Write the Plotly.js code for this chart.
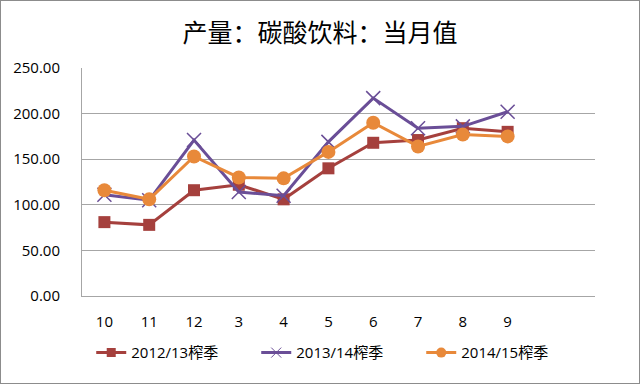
<!DOCTYPE html>
<html><head><meta charset="utf-8">
<script src="https://cdn.plot.ly/plotly-3.0.1.min.js"></script>
<style>
html,body{margin:0;padding:0;background:#fff;}
#chart{width:638px;height:382px;border:1px solid #8c8c8c;}
</style></head>
<body><div id="chart"></div>
<script>
const categories = ['10','11','12','3','4','5','6','7','8','9'];
const s2012 = [81, 78, 116, 122, 106, 140, 168, 171, 184, 180];
const s2013 = [111, 105, 171, 114, 110, 169, 217, 184, 186, 202];
const s2014 = [116, 106, 153, 130, 129, 158, 190, 164, 177, 175];
const names = ['2012/13榨季','2013/14榨季','2014/15榨季'];
const colors = ['#A5403D', '#6A4E97', '#E8893A'];

const font = '"Open Sans", "Noto Sans CJK SC", sans-serif';
const lfont = '"Open Sans", "Noto Sans CJK SC", sans-serif';
const series = [s2012, s2013, s2014];
const symbols = ['square', 'x-thin', 'circle'];
const sizes = [12, 14, 14];
const lsizes = [9, 10, 10];
const traces = [];
series.forEach((s, i) => {
  traces.push({x: categories, y: s, name: names[i], type: 'scatter', mode: 'lines+markers', showlegend: false,
    line: {color: colors[i], width: 3},
    marker: {symbol: symbols[i], size: sizes[i], color: colors[i], line: {color: colors[i], width: i === 1 ? 1.5 : 0}}});
});
series.forEach((s, i) => {
  traces.push({x: [null], y: [null], name: names[i], type: 'scatter', mode: 'lines+markers', showlegend: true,
    line: {color: colors[i], width: 3},
    marker: {symbol: symbols[i], size: lsizes[i], color: colors[i], line: {color: colors[i], width: i === 1 ? 1 : 0}}});
});
const layout = {
  width: 638, height: 382,
  margin: {l: 81, r: 44, t: 67, b: 87, autoexpand: false},
  paper_bgcolor: '#fff', plot_bgcolor: '#fff',
  title: {text: '产量：碳酸饮料：当月值', x: 0.5, xanchor: 'center', y: 0.915, yanchor: 'middle',
          font: {family: '"Noto Sans CJK SC", sans-serif', size: 25, color: '#000'}},
  xaxis: {type: 'category', range: [-0.5, 10.95], showgrid: false, showline: true, linecolor: '#a6a6a6', linewidth: 1,
          ticks: '', ticklabelstandoff: 12, tickfont: {family: font, size: 15, color: '#000'}, zeroline: false},
  yaxis: {range: [0, 250], dtick: 50, tickformat: '.2f', showgrid: true, gridcolor: '#a6a6a6', gridwidth: 1,
          showline: true, linecolor: '#a6a6a6', ticks: '', ticklabelstandoff: 18,
          tickfont: {family: font, size: 15, color: '#000'}, zeroline: false},
  showlegend: true,
  legend: {orientation: 'h', x: 0.018, xanchor: 'left', y: -0.177, yanchor: 'top',
           font: {family: lfont, size: 15, color: '#000'}, entrywidth: 120, entrywidthmode: 'pixels', tracegroupgap: 0}
};
Plotly.newPlot('chart', traces, layout, {displayModeBar: false, staticPlot: true});
</script></body></html>
